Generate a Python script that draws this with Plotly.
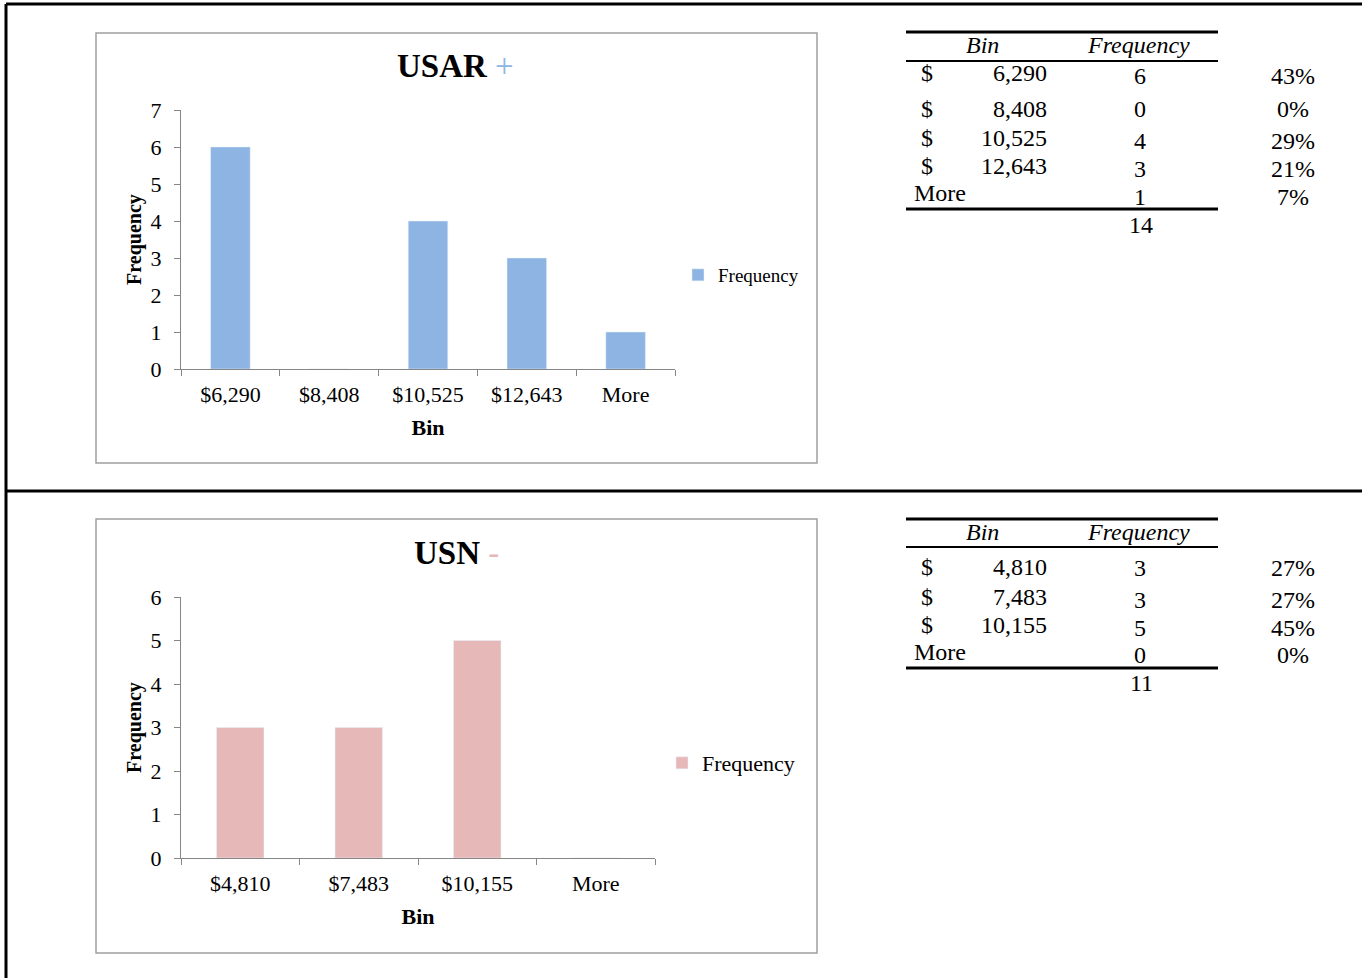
import plotly.graph_objects as go

# ---- data ----
usar_bins = [6290, 8408, 10525, 12643]
usar_freq = [6, 0, 4, 3, 1]
usn_bins = [4810, 7483, 10155]
usn_freq = [3, 3, 5, 0]
more_label = "More"

usar_color = "#8DB4E2"
usn_color = "#E6B9B8"

W, H = 1362, 978
SERIF = "Liberation Serif, Times New Roman, serif"


def px_x(x):
    return x / W


def px_y(y):
    return 1 - y / H


def money(v):
    return "${:,}".format(v)


usar_cats = [money(b) for b in usar_bins] + [more_label]
usn_cats = [money(b) for b in usn_bins] + [more_label]

fig = go.Figure()
fig.add_trace(go.Bar(x=usar_cats, y=usar_freq, name="Frequency", marker_color=usar_color,
                     xaxis="x", yaxis="y", legend="legend", showlegend=True))
fig.add_trace(go.Bar(x=usn_cats, y=usn_freq, name="Frequency", marker_color=usn_color,
                     xaxis="x2", yaxis="y2", legend="legend2", showlegend=True))

axis_line = "#868686"
xcommon = dict(type="category", showline=True, linecolor=axis_line, linewidth=1,
               ticks="outside", tickson="boundaries", ticklen=6, tickcolor=axis_line,
               showgrid=False, zeroline=False, ticklabelstandoff=6, automargin=False,
               tickfont=dict(family=SERIF, size=22, color="black"),
               title=dict(text="<b>Bin</b>", font=dict(family=SERIF, size=22, color="black"),
                          standoff=13))
ycommon = dict(showline=True, linecolor=axis_line, linewidth=1, ticks="outside",
               ticklen=6, tickcolor=axis_line, showgrid=False, zeroline=False, dtick=1,
               ticklabelstandoff=8, automargin=False,
               tickfont=dict(family=SERIF, size=22, color="black"),
               title=dict(text="<b>Frequency</b>", font=dict(family=SERIF, size=20, color="black"),
                          standoff=3))

fig.update_layout(
    width=W, height=H, margin=dict(l=0, r=0, t=0, b=0, pad=0, autoexpand=False),
    paper_bgcolor="white", plot_bgcolor="white", bargap=0.6, showlegend=True,
    xaxis=dict(xcommon, domain=[px_x(181), px_x(675)], anchor="y"),
    yaxis=dict(ycommon, domain=[px_y(369), px_y(110)], range=[0, 7], anchor="x"),
    xaxis2=dict(xcommon, domain=[px_x(181), px_x(655)], anchor="y2"),
    yaxis2=dict(ycommon, domain=[px_y(858), px_y(597)], range=[0, 6], anchor="x2"),
    legend=dict(x=px_x(678), y=px_y(275), xanchor="left", yanchor="middle", visible=True,
                font=dict(family=SERIF, size=19, color="black"), bgcolor="rgba(0,0,0,0)"),
    legend2=dict(x=px_x(662), y=px_y(763), xanchor="left", yanchor="middle", visible=True,
                 font=dict(family=SERIF, size=22, color="black"), bgcolor="rgba(0,0,0,0)"),
)

shapes = []
annotations = []

# outer page rules
shapes += [
    dict(type="line", xref="paper", yref="paper", x0=px_x(6), x1=1, y0=px_y(4), y1=px_y(4),
         line=dict(color="black", width=3)),
    dict(type="line", xref="paper", yref="paper", x0=px_x(6), x1=px_x(6), y0=px_y(4), y1=0,
         line=dict(color="black", width=3)),
    dict(type="line", xref="paper", yref="paper", x0=px_x(6), x1=1, y0=px_y(491), y1=px_y(491),
         line=dict(color="black", width=3)),
]

# chart frames
for top, bottom in [(33, 463), (519, 953)]:
    shapes.append(dict(type="rect", xref="paper", yref="paper", x0=px_x(96), x1=px_x(817),
                       y0=px_y(bottom), y1=px_y(top), line=dict(color="#a0a0a0", width=1.5),
                       layer="below"))

# chart titles
annotations.append(dict(xref="paper", yref="paper", x=px_x(455), y=px_y(66), showarrow=False,
                        text="<b>USAR</b> <span style='color:%s'>+</span>" % usar_color,
                        font=dict(family=SERIF, size=33, color="black"),
                        xanchor="center", yanchor="middle"))
annotations.append(dict(xref="paper", yref="paper", x=px_x(456), y=px_y(553), showarrow=False,
                        text="<b>USN</b> <span style='color:%s'>-</span>" % usn_color,
                        font=dict(family=SERIF, size=33, color="black"),
                        xanchor="center", yanchor="middle"))


def txt(x, y, s, anchor="center", italic=False):
    if italic:
        s = "<i>%s</i>" % s
    annotations.append(dict(xref="paper", yref="paper", x=px_x(x), y=px_y(y), text=s,
                            showarrow=False, xanchor=anchor, yanchor="middle",
                            font=dict(family=SERIF, size=24, color="black")))


def hline(y, width):
    shapes.append(dict(type="line", xref="paper", yref="paper", x0=px_x(906), x1=px_x(1218),
                       y0=px_y(y), y1=px_y(y), line=dict(color="black", width=width)))


def freq_table(bins, freq, top, header_y, rule_y, bottom, bin_rows, cnt_rows, total_y):
    total = sum(freq)
    hline(top, 3)
    hline(rule_y, 2)
    hline(bottom, 3)
    txt(983, header_y, "Bin", italic=True)
    txt(1138, header_y, "Frequency", italic=True)
    labels = ["{:,}".format(b) for b in bins] + [None]
    for lab, f, by, cy in zip(labels, freq, bin_rows, cnt_rows):
        if lab is None:
            txt(912, by, more_label, anchor="left")
        else:
            txt(927, by, "$")
            txt(1049, by, lab, anchor="right")
        txt(1140, cy, str(f))
        txt(1293, cy, "{:.0f}%".format(100 * f / total))
    txt(1141, total_y, str(total))


# row placement (pixels) for each table
usar_bin_rows = [73, 109, 138, 166, 193]
usar_cnt_rows = [76, 109, 141, 169, 197]
usn_bin_rows = [567, 597, 625, 652]
usn_cnt_rows = [568, 600, 628, 655]

freq_table(usar_bins, usar_freq, 32, 45, 61, 209, usar_bin_rows, usar_cnt_rows, 225)
freq_table(usn_bins, usn_freq, 519, 532, 547, 668, usn_bin_rows, usn_cnt_rows, 683)

fig.update_layout(shapes=shapes, annotations=annotations)
fig.write_html("out.html")
